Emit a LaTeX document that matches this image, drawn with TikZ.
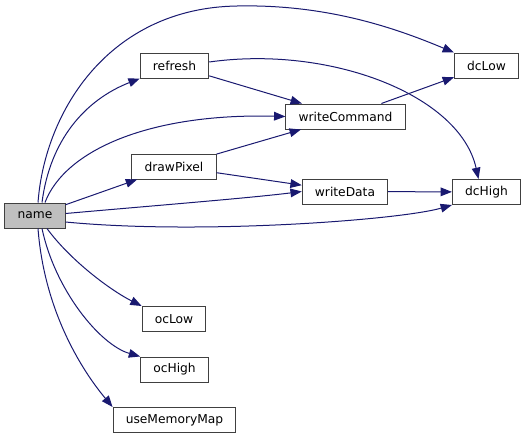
\documentclass[tikz,border=0pt]{standalone}
\usepackage{fontspec}
\setmainfont{DejaVu Sans}
\usetikzlibrary{arrows.meta}
\definecolor{edgeblue}{RGB}{25,25,112}
\tikzset{
  fn/.style={draw=black!75, fill=white, line width=0.75pt, font=\fontsize{9.2}{11}\selectfont,
    minimum height=18.75pt, inner xsep=9.5pt, inner ysep=0pt},
  cur/.style={fn, fill=black!25},
  call/.style={draw=edgeblue, line width=0.75pt, -{Triangle[length=8.5pt,width=6.5pt]}}
}
\begin{document}
\begin{tikzpicture}[x=0.75pt,y=-0.75pt]
\useasboundingbox (0,0) rectangle (525,439);
\node[cur] (name) at (35,215.5) {name};
\node[fn] (refresh) at (174.5,65.5) {refresh};
\node[fn] (drawPixel) at (174,166.5) {drawPixel};
\node[fn] (writeCommand) at (345.5,116.5) {writeCommand};
\node[fn] (writeData) at (345,191.5) {writeData};
\node[fn] (dcLow) at (486.5,65.5) {dcLow};
\node[fn] (dcHigh) at (486.5,192) {dcHigh};
\node[fn] (ocLow) at (174,319) {ocLow};
\node[fn] (ocHigh) at (174.5,369.5) {ocHigh};
\node[fn] (useMemoryMap) at (174.5,420) {useMemoryMap};

\draw[call] (name.north) ++(3,0) .. controls (45,110) and (110,8) .. (237,6) .. controls (330,4) and (400,30) .. (dcLow.north west);
\draw[call] (name.north) ++(7,0) .. controls (50,140) and (85,100) .. (refresh.south west);
\draw[call] (name.north) ++(10,0) .. controls (65,150) and (150,113) .. (writeCommand.west);
\draw[call] (name) -- (drawPixel);
\draw[call] (name.east) ++(0,-2) .. controls (150,206) and (250,198) .. (writeData.west);
\draw[call] (name.east) ++(0,6.5) .. controls (200,235) and (400,220) .. (dcHigh.south west);
\draw[call] (name.south) ++(12,0) .. controls (70,260) and (110,290) .. (ocLow.north west);
\draw[call] (name.south) ++(7,0) .. controls (55,290) and (100,345) .. (ocHigh.north west);
\draw[call] (name.south) ++(3,0) .. controls (45,320) and (90,380) .. (useMemoryMap.north west);
\draw[call] (refresh) -- (writeCommand);
\draw[call] (refresh.east) ++(0,-3.5) .. controls (330,45) and (460,95) .. ([xshift=-6pt]dcHigh.north);
\draw[call] (drawPixel) -- (writeCommand);
\draw[call] (drawPixel) -- (writeData);
\draw[call] (writeCommand) -- (dcLow);
\draw[call] (writeData) -- (dcHigh);
\end{tikzpicture}
\end{document}
